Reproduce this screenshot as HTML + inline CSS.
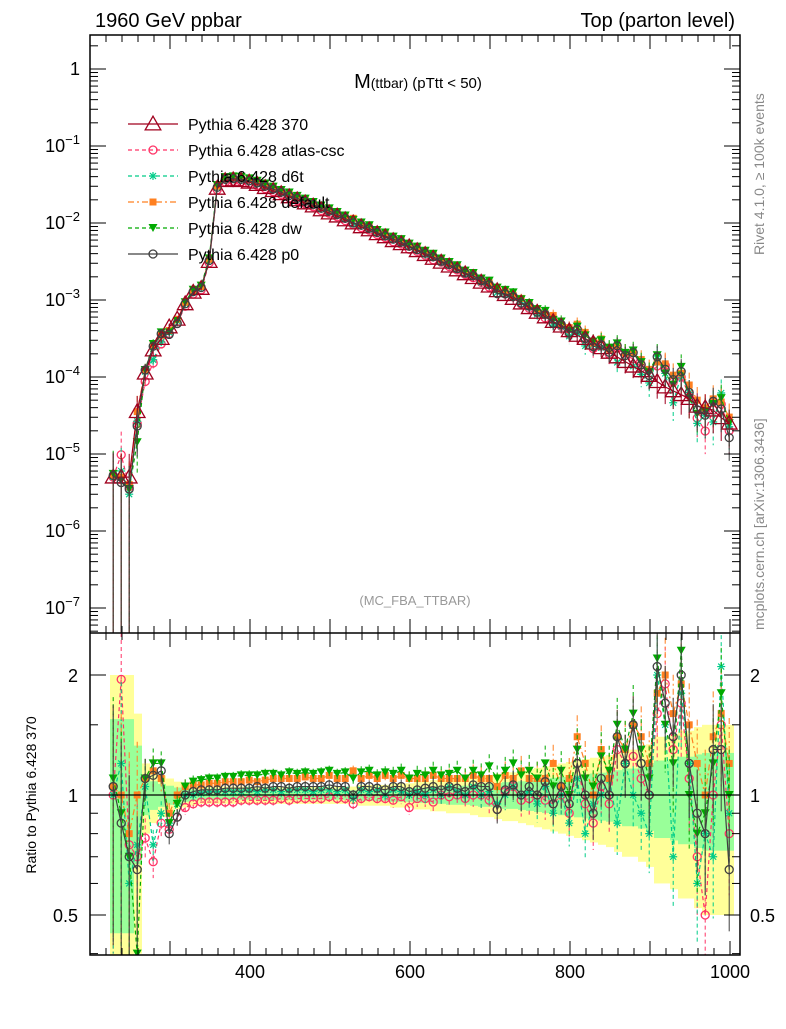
<!DOCTYPE html>
<html><head><meta charset="utf-8">
<style>
body{margin:0;background:#fff;}
svg text{font-family:"Liberation Sans",sans-serif;}
</style></head>
<body>
<svg id="c" width="786" height="1024" xmlns="http://www.w3.org/2000/svg">
<rect width="786" height="1024" fill="#fff"/>
<g id="ratioBands"></g>
<g id="mainMarks"></g>
<g id="ratioMarks"></g>
<g id="axes"></g>
<text x="95" y="27" font-size="20">1960 GeV ppbar</text>
<text x="735" y="27" font-size="20" text-anchor="end">Top (parton level)</text>
<text x="418" y="88" font-size="20" text-anchor="middle">M<tspan font-size="14">(ttbar)</tspan><tspan font-size="15"> (pTtt &lt; 50)</tspan></text>
<text x="415" y="605" font-size="13" fill="#999" text-anchor="middle">(MC_FBA_TTBAR)</text>
<text transform="translate(764,255) rotate(-90)" font-size="14" fill="#888">Rivet 4.1.0, ≥ 100k events</text>
<text transform="translate(764,630) rotate(-90)" font-size="14" fill="#888">mcplots.cern.ch [arXiv:1306.3436]</text>
<text transform="translate(36,795) rotate(-90)" font-size="14" text-anchor="middle">Ratio to Pythia 6.428 370</text>
<g id="legend"></g>
</svg>
<script>
const masses=[230,240,250,260,270,280,290,300,310,320,330,340,350,360,370,380,390,400,410,420,430,440,450,460,470,480,490,500,510,520,530,540,550,560,570,580,590,600,610,620,630,640,650,660,670,680,690,700,710,720,730,740,750,760,770,780,790,800,810,820,830,840,850,860,870,880,890,900,910,920,930,940,950,960,970,980,990,1000];
const baseLog=[-5.3,-5.3,-5.3,-4.45,-3.95,-3.65,-3.5,-3.35,-3.25,-3.05,-2.9,-2.85,-2.5,-1.55,-1.45,-1.44,-1.45,-1.47,-1.5,-1.54,-1.58,-1.62,-1.66,-1.7,-1.74,-1.78,-1.83,-1.87,-1.91,-1.96,-2.0,-2.05,-2.09,-2.14,-2.18,-2.23,-2.27,-2.31,-2.36,-2.41,-2.46,-2.51,-2.56,-2.61,-2.66,-2.71,-2.77,-2.82,-2.88,-2.93,-2.98,-3.04,-3.1,-3.16,-3.22,-3.28,-3.34,-3.4,-3.46,-3.5,-3.56,-3.62,-3.68,-3.74,-3.8,-3.86,-3.92,-3.98,-4.06,-4.13,-4.18,-4.23,-4.28,-4.38,-4.4,-4.43,-4.53,-4.6];
const errRel=[1,1,1,0.6,0.2,0.15,0.12,0.1,0.08,0.07,0.06,0.05,0.05,0.05,0.05,0.05,0.05,0.05,0.05,0.05,0.05,0.05,0.05,0.05,0.05,0.05,0.05,0.05,0.05,0.05,0.05,0.06,0.06,0.06,0.06,0.07,0.07,0.07,0.08,0.08,0.09,0.09,0.1,0.1,0.1,0.11,0.12,0.12,0.13,0.14,0.14,0.15,0.16,0.17,0.18,0.19,0.2,0.21,0.22,0.23,0.24,0.25,0.26,0.28,0.3,0.3,0.32,0.34,0.4,0.4,0.42,0.45,0.45,0.48,0.5,0.5,0.5,0.5];
const r370=masses.map(()=>1);
const rCsc=[1,1.95,0.75,0.7,0.78,0.68,0.85,0.82,0.88,0.93,0.95,0.96,0.96,0.96,0.96,0.96,0.97,0.97,0.97,0.97,0.97,0.98,0.97,0.98,0.98,0.98,0.98,0.99,0.98,0.98,0.95,0.98,0.99,0.98,0.98,0.97,0.99,0.93,0.98,0.98,0.96,1.0,0.99,1.0,0.98,1.0,1.0,0.97,0.92,1.02,1.05,0.97,0.98,1.0,0.97,0.95,1.0,0.9,1.2,0.95,0.85,1.05,0.95,1.3,1.2,1.25,1.1,1.0,1.6,1.9,1.3,1.7,1.1,0.7,0.5,1.0,1.5,0.8];
const rD6t=[1,1.2,0.6,0.75,1.05,0.75,0.9,0.85,0.95,1.0,1.0,1.01,1.02,1.02,1.02,1.02,1.02,1.03,1.02,1.03,1.03,1.02,1.03,1.03,1.03,1.02,1.03,1.03,1.02,1.03,0.98,1.03,1.02,1.03,1.0,1.03,1.02,1.0,1.02,1.0,1.03,1.0,1.05,1.02,1.0,1.05,1.0,1.02,0.95,1.0,1.05,1.0,1.02,0.95,1.05,0.9,1.0,0.85,1.1,0.8,0.95,1.0,1.1,0.85,1.2,1.0,0.9,0.8,2.0,1.5,0.7,1.8,1.2,0.6,0.8,0.7,2.1,0.9];
const rDef=[1.05,1,0.8,1.0,1.1,1.15,1.1,0.9,1.0,1.05,1.06,1.06,1.07,1.07,1.08,1.08,1.08,1.09,1.08,1.09,1.1,1.1,1.1,1.1,1.11,1.1,1.1,1.12,1.1,1.1,1.15,1.1,1.12,1.1,1.12,1.1,1.12,1.1,1.1,1.1,1.12,1.1,1.1,1.1,1.1,1.12,1.1,1.1,1.05,1.12,1.1,1.15,1.1,1.1,1.1,1.2,1.05,1.1,1.4,1.2,1.0,1.3,1.1,1.4,1.3,1.5,1.4,1.2,1.8,2.0,1.6,1.9,1.5,1.2,1.0,1.4,1.6,1.2];
const rDw=[1.1,0.9,0.7,0.4,1.1,1.2,1.2,0.85,0.95,1.05,1.08,1.09,1.1,1.1,1.11,1.11,1.12,1.12,1.12,1.13,1.13,1.12,1.14,1.13,1.14,1.13,1.14,1.15,1.13,1.14,1.1,1.14,1.15,1.12,1.14,1.13,1.15,1.1,1.13,1.12,1.15,1.12,1.13,1.15,1.1,1.15,1.12,1.18,1.1,1.15,1.2,1.12,1.15,1.1,1.2,1.05,1.15,1.0,1.3,1.1,1.05,1.25,1.15,1.5,1.3,1.6,1.3,1.1,2.2,1.5,1.2,2.3,1.0,0.8,0.9,1.2,1.8,1.0];
const rP0=[1.05,0.85,0.7,0.65,1.1,1.12,1.15,0.8,0.88,1.0,1.02,1.03,1.03,1.03,1.04,1.04,1.04,1.04,1.05,1.04,1.05,1.05,1.04,1.05,1.05,1.05,1.05,1.06,1.05,1.05,1.0,1.05,1.05,1.04,1.03,1.05,1.05,1.02,1.03,1.04,1.05,1.03,1.05,1.04,1.02,1.06,1.05,1.05,0.92,1.03,1.06,1.0,1.05,1.0,1.08,0.95,1.05,0.95,1.2,1.0,0.9,1.1,1.0,1.4,1.2,1.5,1.2,1.0,2.1,1.7,1.4,2.0,1.2,0.9,0.8,1.3,1.3,0.65];
const seriesNames=["Pythia 6.428 370","Pythia 6.428 atlas-csc","Pythia 6.428 d6t","Pythia 6.428 default","Pythia 6.428 dw","Pythia 6.428 p0"];
const xTicks=[400,600,800,1000];
const mainTicks=[0,-1,-2,-3,-4,-5,-6,-7];
const ratioTicks=[0.5,1,2];

const NS="http://www.w3.org/2000/svg";
const L=90,R=740,T=35,MB=633,RB=955;
const sx=m=>L+(m-200)*0.8;
const sy=lv=>69-lv*77;
const sr=r=>795-Math.log2(r)*120;
function mk(tag,attrs,parent){const e=document.createElementNS(NS,tag);for(const k in attrs)e.setAttribute(k,attrs[k]);parent.appendChild(e);return e;}
const styles=[
 {c:"#a0001e",dash:"",m:"tri"},
 {c:"#ff3366",dash:"4,3",m:"circ"},
 {c:"#00cc88",dash:"4,3",m:"star"},
 {c:"#ff8020",dash:"6,3,2,3",m:"sq"},
 {c:"#00aa00",dash:"4,3",m:"dtri"},
 {c:"#404040",dash:"",m:"circ"}];
const ratios=[r370,rCsc,rD6t,rDef,rDw,rP0];
function marker(g,s,x,y,big){
 const k=big?1.3:1;
 if(s.m==="tri")mk("path",{d:`M${x},${y-6*k}L${x+6*k},${y+4.5*k}L${x-6*k},${y+4.5*k}Z`,fill:"none",stroke:s.c,"stroke-width":1.3},g);
 else if(s.m==="circ")mk("circle",{cx:x,cy:y,r:4*k,fill:"none",stroke:s.c,"stroke-width":1.3},g);
 else if(s.m==="sq")mk("rect",{x:x-3.5*k,y:y-3.5*k,width:7*k,height:7*k,fill:s.c},g);
 else if(s.m==="dtri")mk("path",{d:`M${x-4.5*k},${y-4*k}L${x+4.5*k},${y-4*k}L${x},${y+4*k}Z`,fill:s.c},g);
 else {mk("path",{d:`M${x-4},${y}H${x+4}M${x},${y-4}V${y+4}M${x-3},${y-3}L${x+3},${y+3}M${x-3},${y+3}L${x+3},${y-3}`,stroke:s.c,"stroke-width":1.2},g);}
}
const defs=mk("defs",{},document.getElementById("c"));
const cp1=mk("clipPath",{id:"cm"},defs);mk("rect",{x:L,y:T,width:R-L,height:MB-T},cp1);
const cp2=mk("clipPath",{id:"cr"},defs);mk("rect",{x:L,y:MB,width:R-L,height:RB-MB},cp2);
const bands=document.getElementById("ratioBands");bands.setAttribute("clip-path","url(#cr)");
masses.forEach((m,i)=>{
 const e=errRel[i];
 const y1=sr(1+e),y2=sr(Math.max(1-e,0.3));
 const yb=mk("rect",{x:sx(m-5),y:y1,width:8,height:y2-y1,fill:"#ffff99"},bands);
 
 
});
masses.forEach((m,i)=>{
 const e=errRel[i]*0.55;
 const y1=sr(1+e),y2=sr(Math.max(1-e,0.3));
 const gb=mk("rect",{x:sx(m-5),y:y1,width:8,height:y2-y1,fill:"#99ff99"},bands);
 
 
});
const mg=document.getElementById("mainMarks");mg.setAttribute("clip-path","url(#cm)");
const rg=document.getElementById("ratioMarks");rg.setAttribute("clip-path","url(#cr)");
const order=[1,2,3,4,0,5];
order.forEach(si=>{
 const s=styles[si],rat=ratios[si];
 const gM=mk("g",{},mg);
 const gR=mk("g",{},rg);
 let pm="",pr="";
 masses.forEach((m,i)=>{
  const v=baseLog[i]+Math.log10(rat[i]);
  const x=sx(m-1),y=sy(v),yr=sr(rat[i]);
  pm+=(i?"L":"M")+x+","+y;pr+=(i?"L":"M")+x+","+yr;
  const e=errRel[i];
  const lo=Math.log10(Math.max(1-e,1e-4));
  mk("line",{x1:x,x2:x,y1:sy(v+Math.log10(1+e)),y2:sy(v+lo),stroke:s.c,"stroke-width":1,"stroke-dasharray":s.dash},gM);
  if(si!==0)mk("line",{x1:x,x2:x,y1:sr(rat[i]*(1+e*0.6)),y2:sr(Math.max(rat[i]*(1-e*0.6),0.2)),stroke:s.c,"stroke-width":1,"stroke-dasharray":s.dash},gR);
 });
 mk("path",{d:pm,fill:"none",stroke:s.c,"stroke-width":1.2,"stroke-dasharray":s.dash},gM);
 if(si!==0)mk("path",{d:pr,fill:"none",stroke:s.c,"stroke-width":1.2,"stroke-dasharray":s.dash},gR);
 masses.forEach((m,i)=>{
  const v=baseLog[i]+Math.log10(rat[i]);
  marker(gM,s,sx(m-1),sy(v),si===0);
  if(si!==0)marker(gR,s,sx(m-1),sr(rat[i]),false);
 });
});
mk("line",{x1:L,x2:R,y1:sr(1),y2:sr(1),stroke:"#000","stroke-width":1.2},rg);
const ax=document.getElementById("axes");
mk("rect",{x:L,y:T,width:R-L,height:RB-T,fill:"none",stroke:"#000","stroke-width":1.5},ax);
mk("line",{x1:L,x2:R,y1:MB,y2:MB,stroke:"#000","stroke-width":1.5},ax);
for(let m=200;m<=1010;m+=20){
 const big=m%100===0,len=big?14:7,x=sx(m);
 mk("line",{x1:x,x2:x,y1:RB,y2:RB-len,stroke:"#000"},ax);
 mk("line",{x1:x,x2:x,y1:MB,y2:MB-len,stroke:"#000"},ax);
 mk("line",{x1:x,x2:x,y1:T,y2:T+len,stroke:"#000"},ax);
 mk("line",{x1:x,x2:x,y1:MB,y2:MB+len,stroke:"#000"},ax);
}
xTicks.forEach(t=>{const e=mk("text",{x:sx(t),y:978,"font-size":18,"text-anchor":"middle"},ax);e.textContent=t;});
for(let d=1;d>=-8;d--){for(let k=1;k<10;k++){const lv=d+Math.log10(k);const y=sy(lv);if(y<T||y>MB)continue;const len=k===1?16:8;
 mk("line",{x1:L,x2:L+len,y1:y,y2:y,stroke:"#000"},ax);mk("line",{x1:R,x2:R-len,y1:y,y2:y,stroke:"#000"},ax);}}
mainTicks.forEach(t=>{const y=sy(t);const e=mk("text",{x:80,y:y+6,"font-size":18,"text-anchor":"end"},ax);
 
 if(t===0)e.textContent="1";else{e.textContent="10";const ts=mk("tspan",{dy:-8,"font-size":13},e);ts.textContent=String(t).replace("-","−");}});
[0.4,0.5,0.6,0.7,0.8,0.9,1,1.5,2].forEach(r=>{const y=sr(r);const len=(r===0.5||r===1||r===2)?16:8;
 mk("line",{x1:L,x2:L+len,y1:y,y2:y,stroke:"#000"},ax);mk("line",{x1:R,x2:R-len,y1:y,y2:y,stroke:"#000"},ax);});
ratioTicks.forEach(t=>{const y=sr(t);
 const a=mk("text",{x:78,y:y+7,"font-size":18,"text-anchor":"end"},ax);a.textContent=t;
 const b=mk("text",{x:750,y:y+7,"font-size":18},ax);b.textContent=t;});
const lg=document.getElementById("legend");
seriesNames.forEach((n,i)=>{const s=styles[i],y=124+i*26;
 const g=mk("g",{},lg);
 mk("line",{x1:128,x2:178,y1:y,y2:y,stroke:s.c,"stroke-width":1.3,"stroke-dasharray":s.dash},g);
 marker(g,s,153,y,i===0);
 const t=mk("text",{x:188,y:y+6,"font-size":16},g);t.textContent=n;});
</script>
</body></html>
